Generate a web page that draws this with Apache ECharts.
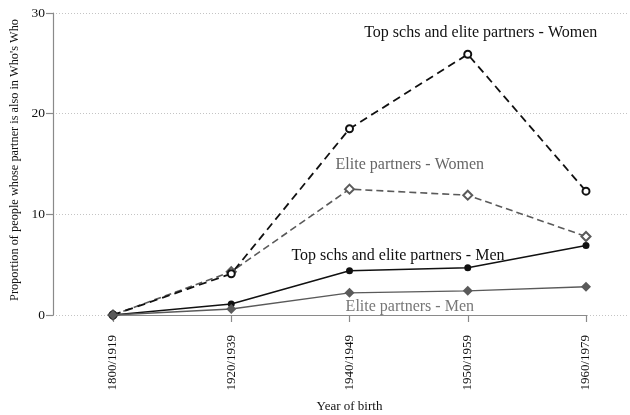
<!DOCTYPE html>
<html>
<head>
<meta charset="utf-8">
<script src="https://cdn.jsdelivr.net/npm/echarts@6/dist/echarts.min.js"></script>
<style>
  html, body { margin: 0; padding: 0; background: #fff; }
  #chart { width: 630px; height: 415px; }
</style>
</head>
<body>
<div id="chart"></div>
<script>
// Birth cohorts
const cohorts = ['1800/1919', '1920/1939', '1940/1949', '1950/1959', '1960/1979'];

// Share (%) of people whose partner is also in Who's Who
const topSchsWomen = [0, 4.1, 18.5, 25.9, 12.3];
const eliteWomen   = [0, 4.3, 12.5, 11.9, 7.8];
const topSchsMen   = [0, 1.1, 4.4, 4.7, 6.9];
const eliteMen     = [0, 0.6, 2.2, 2.4, 2.8];

// Y axis ticks
const yTicks = [0, 10, 20, 30];

// In-plot series labels: [text, cohort position, value]
const seriesLabels = [
  ['Top schs and elite partners - Women', 3.11, 28.0],
  ['Elite partners - Women', 2.51, 14.9],
  ['Top schs and elite partners - Men', 2.41, 5.9],
  ['Elite partners - Men', 2.51, 0.8]
];

const FONT = '"Liberation Serif", "DejaVu Serif", serif';
const BLACK = '#111111';
const GREY = '#5a5a5a';

const chart = echarts.init(document.getElementById('chart'));

const option = {
  animation: false,
  backgroundColor: '#ffffff',
  grid: [
    { left: 53, right: 2, top: 13, bottom: 100, outerBoundsMode: 'none', containLabel: false },
    { left: 113, right: 44, top: 13, bottom: 100, outerBoundsMode: 'none', containLabel: false }
  ],
  xAxis: [
    { gridIndex: 0, type: 'value', min: 0, max: 1, show: false },
    {
      gridIndex: 1, type: 'category', data: cohorts, boundaryGap: false,
      offset: 10,
      name: 'Year of birth', nameLocation: 'middle', nameGap: 75,
      nameTextStyle: { fontFamily: FONT, fontSize: 13, color: BLACK },
      axisLine: { lineStyle: { color: '#8a8a8a', width: 1.2 } },
      axisTick: { show: true, length: 7, alignWithLabel: true, lineStyle: { color: '#8a8a8a', width: 1.2 } },
      axisLabel: { rotate: 90, margin: 10, fontFamily: FONT, fontSize: 13, color: BLACK },
      splitLine: { show: false }
    }
  ],
  yAxis: [
    {
      gridIndex: 0, type: 'value', min: 0, max: 30, interval: 10,
      name: "Proportion of people whose partner is also in Who's Who",
      nameLocation: 'middle', nameGap: 29,
      nameTextStyle: { fontFamily: FONT, fontSize: 12.3, color: BLACK, padding: [0, 0, 0, 8] },
      axisLine: { show: true, lineStyle: { color: '#8a8a8a', width: 1.2 } },
      axisTick: { show: true, length: 7, lineStyle: { color: '#8a8a8a', width: 1.2 } },
      axisLabel: {
        margin: 8, fontFamily: FONT, fontSize: 13.5, color: BLACK,
        formatter: v => (yTicks.indexOf(v) >= 0 ? String(v) : '')
      },
      splitLine: { show: true, lineStyle: { color: '#c4c4c4', type: [1, 2], width: 1 } }
    },
    { gridIndex: 1, type: 'value', min: 0, max: 30, interval: 10, show: false, splitLine: { show: false } }
  ],
  series: [
    {
      name: 'Elite partners - Men', type: 'line', xAxisIndex: 1, yAxisIndex: 1,
      data: eliteMen, symbol: 'diamond', symbolSize: 10,
      itemStyle: { color: GREY },
      lineStyle: { color: GREY, width: 1.4 }, z: 3
    },
    {
      name: 'Top schs and elite partners - Men', type: 'line', xAxisIndex: 1, yAxisIndex: 1,
      data: topSchsMen, symbol: 'circle', symbolSize: 7,
      itemStyle: { color: BLACK },
      lineStyle: { color: BLACK, width: 1.6 }, z: 2
    },
    {
      name: 'Elite partners - Women', type: 'line', xAxisIndex: 1, yAxisIndex: 1,
      data: eliteWomen, symbol: 'emptyDiamond', symbolSize: 9,
      itemStyle: { color: GREY, borderColor: GREY, borderWidth: 1 },
      lineStyle: { color: GREY, width: 1.6, type: [7, 4] }, z: 2
    },
    {
      name: 'Top schs and elite partners - Women', type: 'line', xAxisIndex: 1, yAxisIndex: 1,
      data: topSchsWomen, symbol: 'emptyCircle', symbolSize: 7,
      itemStyle: { color: BLACK, borderColor: BLACK, borderWidth: 1 },
      lineStyle: { color: BLACK, width: 1.8, type: [8, 5] }, z: 2
    }
  ]
};

chart.setOption(option);

// Place the series captions in data space of the cohort axis
function toPixel(pos, value) {
  const i = Math.floor(pos);
  const f = pos - i;
  const a = chart.convertToPixel({ xAxisIndex: 1, yAxisIndex: 1 }, [i, value]);
  const b = chart.convertToPixel({ xAxisIndex: 1, yAxisIndex: 1 }, [i + 1, value]);
  return [a[0] + f * (b[0] - a[0]), a[1]];
}

const labelColors = [BLACK, '#666666', BLACK, '#777777'];
chart.setOption({
  graphic: seriesLabels.map((l, k) => {
    const p = toPixel(l[1], l[2]);
    return {
      type: 'text', x: p[0], y: p[1], z: 10,
      style: {
        text: l[0], fill: labelColors[k], font: '16px ' + FONT,
        align: 'center', verticalAlign: 'middle'
      }
    };
  })
});
</script>
</body>
</html>
